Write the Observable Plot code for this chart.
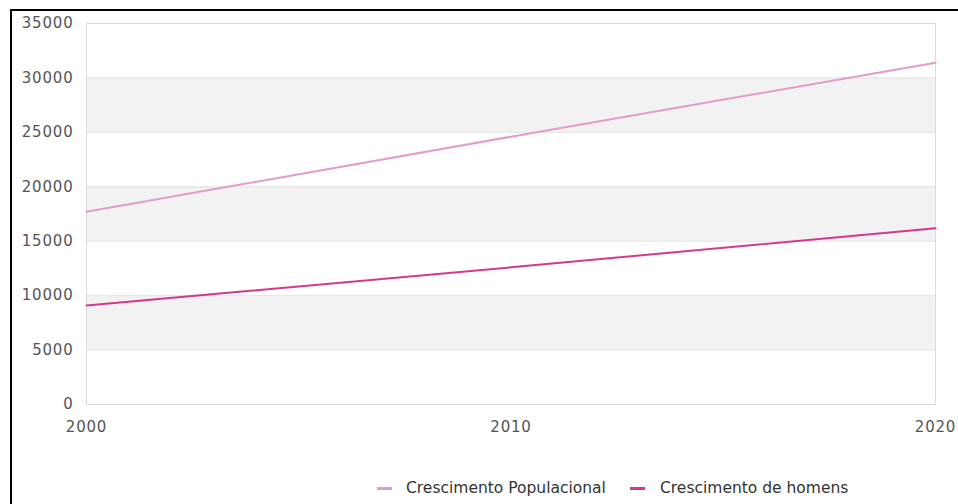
<!DOCTYPE html>
<html>
<head>
<meta charset="utf-8">
<script src="https://cdn.jsdelivr.net/npm/d3@7"></script>
<script src="https://cdn.jsdelivr.net/npm/@observablehq/plot@0.6"></script>
<style>
  html, body { margin: 0; padding: 0; background: #fff; }
  body { width: 958px; height: 504px; position: relative; overflow: hidden; font-family: "DejaVu Sans", sans-serif; }
  #frame { position: absolute; left: 10px; top: 9px; width: 960px; height: 500px; border-left: 2px solid #000; border-top: 2px solid #000; box-sizing: border-box; pointer-events: none; }
  #chart { position: absolute; left: 0; top: 0; }
  #chart svg g[aria-label$="tick label"] text { letter-spacing: 0.8px; }
  #legend { position: absolute; left: 0; top: 478px; width: 958px; height: 20px; font-size: 15.5px; color: #333; }
  .item { position: absolute; top: 0; height: 20px; line-height: 20px; white-space: nowrap; }
  .sw { position: absolute; top: 9px; height: 3px; width: 15px; }
</style>
</head>
<body>
<div id="chart"></div>
<div id="legend"></div>
<div id="frame"></div>
<script>
const years = [2000, 2010, 2020];
const populacional = [17700, 24600, 31400];
const homens = [9100, 12600, 16200];
const seriesNames = ["Crescimento Populacional", "Crescimento de homens"];
const seriesColors = ["#e69ac9", "#d4388c"];
const yTicks = [0, 5000, 10000, 15000, 20000, 25000, 30000, 35000];
const xTicks = [2000, 2010, 2020];
const bandsLow = [5000, 15000, 25000];
const bandSize = 5000;

const data = [];
years.forEach((yr, i) => {
  data.push({year: yr, value: populacional[i], series: seriesNames[0]});
  data.push({year: yr, value: homens[i], series: seriesNames[1]});
});
const bands = bandsLow.map(b => ({y1: b, y2: b + bandSize}));

const chart = Plot.plot({
  width: 958,
  height: 445,
  marginLeft: 86,
  marginRight: 23,
  marginTop: 23,
  marginBottom: 41,
  style: {fontFamily: "DejaVu Sans, sans-serif", fontSize: "15px", color: "#555", background: "transparent"},
  x: {domain: [2000, 2020], ticks: xTicks, tickFormat: d => String(d), label: null},
  y: {domain: [0, 35000], ticks: yTicks, label: null},
  color: {domain: seriesNames, range: seriesColors},
  marks: [
    Plot.rect(bands, {x1: 2000, x2: 2020, y1: "y1", y2: "y2", fill: "#f2f2f2"}),
    Plot.ruleY(yTicks, {stroke: "#e3e3e3", strokeWidth: 1}),
    Plot.frame({stroke: "#dcdcdc"}),
    Plot.line(data, {x: "year", y: "value", z: "series", stroke: "series", strokeWidth: 2}),
    Plot.axisX({ticks: xTicks, tickFormat: d => String(d), tickSize: 0, tickPadding: 17, fill: "#555"}),
    Plot.axisY({ticks: yTicks, tickFormat: d => String(d), tickSize: 0, tickPadding: 13, fill: "#555"})
  ]
});
document.getElementById("chart").appendChild(chart);

const legend = document.getElementById("legend");
const lx = [{sw: 377, tx: 406}, {sw: 630, tx: 660}];
seriesNames.forEach((name, i) => {
  const sw = document.createElement("div");
  sw.className = "sw";
  sw.style.left = lx[i].sw + "px";
  sw.style.background = seriesColors[i];
  legend.appendChild(sw);
  const t = document.createElement("div");
  t.className = "item";
  t.style.left = lx[i].tx + "px";
  t.textContent = name;
  legend.appendChild(t);
});
</script>
</body>
</html>
